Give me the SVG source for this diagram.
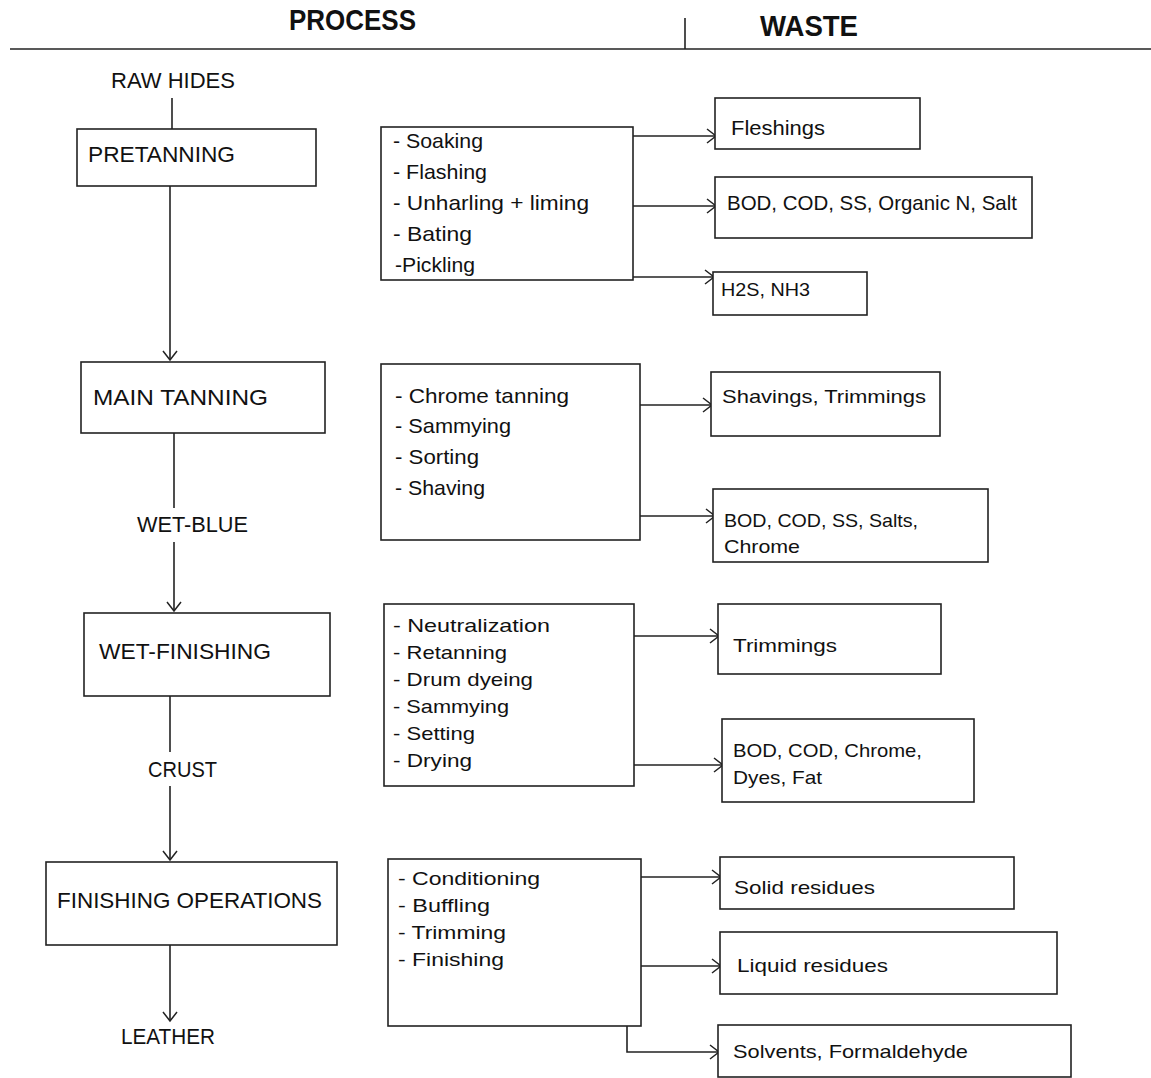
<svg xmlns="http://www.w3.org/2000/svg" width="1151" height="1078" viewBox="0 0 1151 1078">
<defs>
<style>
text{font-family:"Liberation Sans","DejaVu Sans",sans-serif;fill:#111;}
.h{font-size:30px;font-weight:bold;}
.n{font-size:22px;}
.l{font-size:21px;}
.s{font-size:19px;}
.box{fill:#fff;stroke:#222;stroke-width:1.6;}
.ln{fill:none;stroke:#222;stroke-width:1.6;}
</style>
<marker id="ah" markerUnits="userSpaceOnUse" markerWidth="24" markerHeight="24" viewBox="-12 -12 24 24" refX="0" refY="0" orient="auto">
<path d="M-9,-7 L0,0 L-9,7" fill="none" stroke="#222" stroke-width="1.5"/>
</marker>
</defs>
<rect width="1151" height="1078" fill="#fff"/>

<g id="header">
<line class="ln" x1="10" y1="49" x2="1151" y2="49"/>
<line class="ln" x1="685" y1="18" x2="685" y2="49"/>
<text class="h" x="289" y="30" textLength="127" lengthAdjust="spacingAndGlyphs">PROCESS</text>
<text class="h" x="760" y="36" textLength="98" lengthAdjust="spacingAndGlyphs">WASTE</text>
</g>

<g id="connectors">
<line class="ln" x1="172" y1="98" x2="172" y2="129"/>
<line class="ln" x1="170" y1="186" x2="170" y2="360" marker-end="url(#ah)"/>
<line class="ln" x1="174" y1="433" x2="174" y2="611" marker-end="url(#ah)"/>
<line class="ln" x1="170" y1="696" x2="170" y2="860" marker-end="url(#ah)"/>
<line class="ln" x1="170" y1="945" x2="170" y2="1021" marker-end="url(#ah)"/>
<line class="ln" x1="633" y1="136" x2="716" y2="136" marker-end="url(#ah)"/>
<line class="ln" x1="633" y1="206" x2="716" y2="206" marker-end="url(#ah)"/>
<line class="ln" x1="633" y1="277" x2="714" y2="277" marker-end="url(#ah)"/>
<line class="ln" x1="640" y1="405" x2="712" y2="405" marker-end="url(#ah)"/>
<line class="ln" x1="640" y1="516" x2="715" y2="516" marker-end="url(#ah)"/>
<line class="ln" x1="634" y1="636" x2="719" y2="636" marker-end="url(#ah)"/>
<line class="ln" x1="634" y1="765" x2="723" y2="765" marker-end="url(#ah)"/>
<line class="ln" x1="641" y1="877" x2="721" y2="877" marker-end="url(#ah)"/>
<line class="ln" x1="641" y1="966" x2="721" y2="966" marker-end="url(#ah)"/>
<polyline class="ln" points="627,1026 627,1052 719,1052" marker-end="url(#ah)"/>
</g>

<g id="raw-hides"><text class="n" x="111" y="88" textLength="124" lengthAdjust="spacingAndGlyphs">RAW HIDES</text></g>
<g id="wet-blue"><rect x="132" y="508" width="122" height="34" fill="#fff"/><text class="n" x="137" y="532" textLength="111" lengthAdjust="spacingAndGlyphs">WET-BLUE</text></g>
<g id="crust"><rect x="143" y="752" width="80" height="34" fill="#fff"/><text class="n" x="148" y="777" textLength="69" lengthAdjust="spacingAndGlyphs">CRUST</text></g>
<g id="leather"><text class="n" x="121" y="1044" textLength="94" lengthAdjust="spacingAndGlyphs">LEATHER</text></g>

<g id="pretanning"><rect class="box" x="77" y="129" width="239" height="57"/><text class="n" x="88" y="162" textLength="147" lengthAdjust="spacingAndGlyphs">PRETANNING</text></g>
<g id="main-tanning"><rect class="box" x="81" y="362" width="244" height="71"/><text class="n" x="93" y="405" textLength="175" lengthAdjust="spacingAndGlyphs">MAIN TANNING</text></g>
<g id="wet-finishing"><rect class="box" x="84" y="613" width="246" height="83"/><text class="n" x="99" y="659" textLength="172" lengthAdjust="spacingAndGlyphs">WET-FINISHING</text></g>
<g id="finishing-operations"><rect class="box" x="46" y="862" width="291" height="83"/><text class="n" x="57" y="908" textLength="265" lengthAdjust="spacingAndGlyphs">FINISHING OPERATIONS</text></g>

<g id="pretanning-steps"><rect class="box" x="381" y="127" width="252" height="153"/>
<text class="l" x="393" y="148" textLength="90" lengthAdjust="spacingAndGlyphs">- Soaking</text>
<text class="l" x="393" y="179" textLength="94" lengthAdjust="spacingAndGlyphs">- Flashing</text>
<text class="l" x="393" y="210" textLength="196" lengthAdjust="spacingAndGlyphs">- Unharling + liming</text>
<text class="l" x="393" y="241" textLength="79" lengthAdjust="spacingAndGlyphs">- Bating</text>
<text class="l" x="395" y="272" textLength="80" lengthAdjust="spacingAndGlyphs">-Pickling</text>
</g>
<g id="fleshings"><rect class="box" x="715" y="98" width="205" height="51"/><text class="l" x="731" y="135" textLength="94" lengthAdjust="spacingAndGlyphs">Fleshings</text></g>
<g id="waste-pre-liquid"><rect class="box" x="715" y="177" width="317" height="61"/><text class="l" x="727" y="210" textLength="290" lengthAdjust="spacingAndGlyphs">BOD, COD, SS, Organic N, Salt</text></g>
<g id="waste-pre-gas"><rect class="box" x="713" y="272" width="154" height="43"/><text class="s" x="721" y="296" textLength="89" lengthAdjust="spacingAndGlyphs">H2S, NH3</text></g>

<g id="tanning-steps"><rect class="box" x="381" y="364" width="259" height="176"/>
<text class="l" x="395" y="403" textLength="174" lengthAdjust="spacingAndGlyphs">- Chrome tanning</text>
<text class="l" x="395" y="433" textLength="116" lengthAdjust="spacingAndGlyphs">- Sammying</text>
<text class="l" x="395" y="464" textLength="84" lengthAdjust="spacingAndGlyphs">- Sorting</text>
<text class="l" x="395" y="495" textLength="90" lengthAdjust="spacingAndGlyphs">- Shaving</text>
</g>
<g id="shavings"><rect class="box" x="711" y="372" width="229" height="64"/><text class="s" x="722" y="403" textLength="204" lengthAdjust="spacingAndGlyphs">Shavings, Trimmings</text></g>
<g id="waste-tan-liquid"><rect class="box" x="713" y="489" width="275" height="73"/>
<text class="s" x="724" y="527" textLength="194" lengthAdjust="spacingAndGlyphs">BOD, COD, SS, Salts,</text>
<text class="s" x="724" y="553" textLength="76" lengthAdjust="spacingAndGlyphs">Chrome</text></g>

<g id="wet-finishing-steps"><rect class="box" x="384" y="604" width="250" height="182"/>
<text class="s" x="393" y="632" textLength="157" lengthAdjust="spacingAndGlyphs">- Neutralization</text>
<text class="s" x="393" y="659" textLength="114" lengthAdjust="spacingAndGlyphs">- Retanning</text>
<text class="s" x="393" y="686" textLength="140" lengthAdjust="spacingAndGlyphs">- Drum dyeing</text>
<text class="s" x="393" y="713" textLength="116" lengthAdjust="spacingAndGlyphs">- Sammying</text>
<text class="s" x="393" y="740" textLength="82" lengthAdjust="spacingAndGlyphs">- Setting</text>
<text class="s" x="393" y="767" textLength="79" lengthAdjust="spacingAndGlyphs">- Drying</text>
</g>
<g id="trimmings"><rect class="box" x="718" y="604" width="223" height="70"/><text class="s" x="733" y="652" textLength="104" lengthAdjust="spacingAndGlyphs">Trimmings</text></g>
<g id="waste-wet-liquid"><rect class="box" x="722" y="719" width="252" height="83"/>
<text class="s" x="733" y="757" textLength="189" lengthAdjust="spacingAndGlyphs">BOD, COD, Chrome,</text>
<text class="s" x="733" y="784" textLength="89" lengthAdjust="spacingAndGlyphs">Dyes, Fat</text></g>

<g id="finishing-steps"><rect class="box" x="388" y="859" width="253" height="167"/>
<text class="s" x="398" y="885" textLength="142" lengthAdjust="spacingAndGlyphs">- Conditioning</text>
<text class="s" x="398" y="912" textLength="92" lengthAdjust="spacingAndGlyphs">- Buffling</text>
<text class="s" x="398" y="939" textLength="108" lengthAdjust="spacingAndGlyphs">- Trimming</text>
<text class="s" x="398" y="966" textLength="106" lengthAdjust="spacingAndGlyphs">- Finishing</text>
</g>
<g id="solid-residues"><rect class="box" x="720" y="857" width="294" height="52"/><text class="s" x="734" y="894" textLength="141" lengthAdjust="spacingAndGlyphs">Solid residues</text></g>
<g id="liquid-residues"><rect class="box" x="720" y="932" width="337" height="62"/><text class="s" x="737" y="972" textLength="151" lengthAdjust="spacingAndGlyphs">Liquid residues</text></g>
<g id="solvents"><rect class="box" x="718" y="1025" width="353" height="52"/><text class="s" x="733" y="1058" textLength="235" lengthAdjust="spacingAndGlyphs">Solvents, Formaldehyde</text></g>
</svg>
